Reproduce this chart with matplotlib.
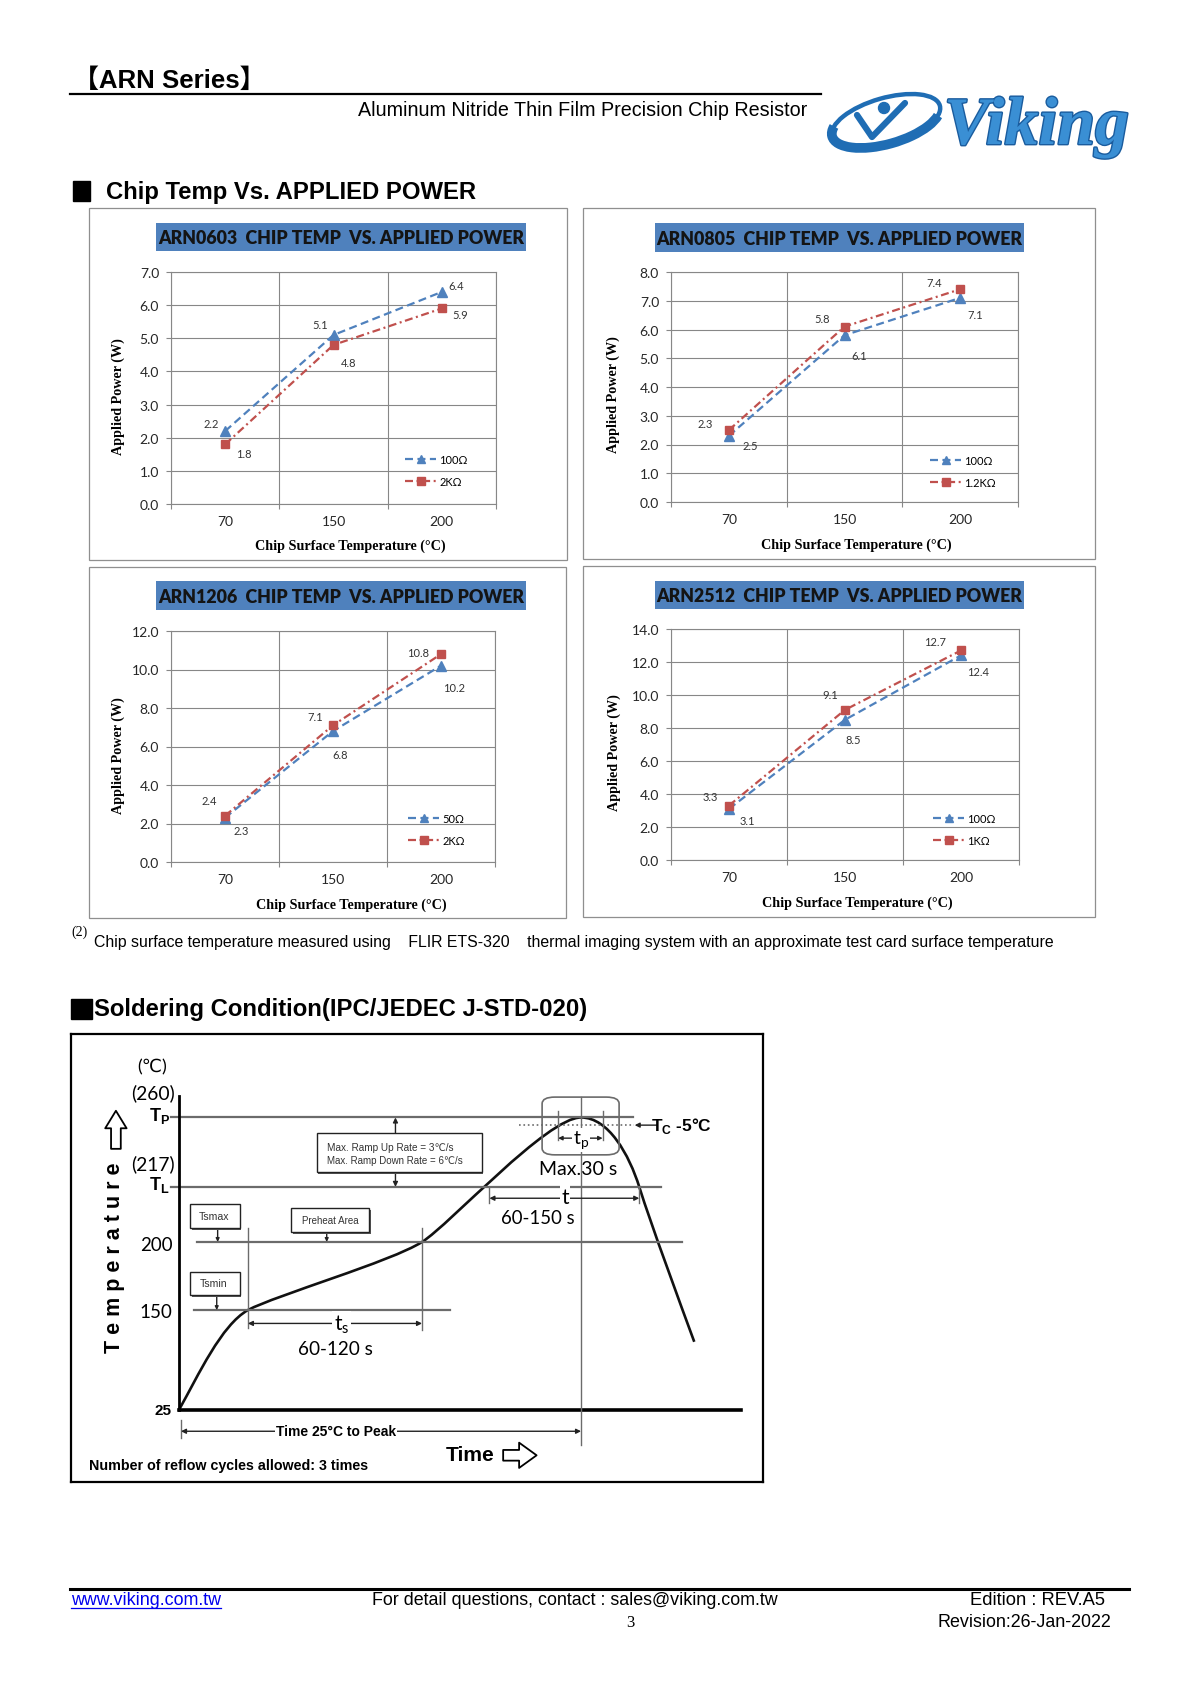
import numpy as np
import matplotlib
matplotlib.use('Agg')
import matplotlib.pyplot as plt
import matplotlib.patches as mpatches
import matplotlib.patheffects as pe
from matplotlib.path import Path

# ---- chart data ----
CATS = ['70', '150', '200']
TITLES = ['ARN0603  CHIP TEMP  VS. APPLIED POWER', 'ARN0805  CHIP TEMP  VS. APPLIED POWER',
          'ARN1206  CHIP TEMP  VS. APPLIED POWER', 'ARN2512  CHIP TEMP  VS. APPLIED POWER']
ARN0603_A = [2.2, 5.1, 6.4]
ARN0603_B = [1.8, 4.8, 5.9]
ARN0805_A = [2.3, 5.8, 7.1]
ARN0805_B = [2.5, 6.1, 7.4]
ARN1206_A = [2.3, 6.8, 10.2]
ARN1206_B = [2.4, 7.1, 10.8]
ARN2512_A = [3.1, 8.5, 12.4]
ARN2512_B = [3.3, 9.1, 12.7]
SERIES_A = [ARN0603_A, ARN0805_A, ARN1206_A, ARN2512_A]
SERIES_B = [ARN0603_B, ARN0805_B, ARN1206_B, ARN2512_B]
NAMES = [['100Ω', '2KΩ'], ['100Ω', '1.2KΩ'], ['50Ω', '2KΩ'], ['100Ω', '1KΩ']]
YMAX = [7, 8, 12, 14]
YSTEP = [1, 1, 2, 2]

# data label offsets (pixels, right / down) per chart, per point
OFF_A = [[(-14, -8), (-13, -10), (14, -6)],
         [(-24, -12), (-22, -17), (15, 17)],
         [(16, 13), (7, 23), (13, 22)],
         [(18, 12), (8, 20), (17, 16)]]
OFF_B = [[(19, 9), (15, 18), (18, 6)],
         [(21, 15), (15, 29), (-26, -7)],
         [(-16, -15), (-18, -9), (-23, -2)],
         [(-19, -9), (-15, -15), (-26, -9)]]

# ---- page layout (pixels) ----
W, H = 1189, 1683
PANEL = [(89, 209, 567, 561), (583, 209, 1095, 560), (89, 568, 566, 919), (583, 567, 1095, 918)]
TITLEBOX = [(156, 224, 526, 252), (655, 224, 1024, 253), (156, 582, 526, 611), (655, 582, 1024, 610)]
PLOT = [(171, 273, 496, 505), (671, 273, 1018, 503), (171, 632, 495, 863), (671, 630, 1019, 861)]
XLAB = [(350, 546), (856, 545), (351, 905), (857, 903)]
YLAB = [(118, 397), (613, 395), (118, 756), (614, 753)]
LEG = [(405, 462), (930, 463), (408, 821), (933, 821)]
SOLDER_BOX = (71, 1035, 763, 1483)

BLUE = '#4F81BD'
RED = '#C0504D'
SANS = ['Liberation Sans', 'DejaVu Sans']
SERIF = ['Liberation Serif', 'DejaVu Serif']
CAL = ['Lato', 'DejaVu Sans']
CJK = ['Liberation Sans', 'Noto Sans CJK SC', 'DejaVu Sans']

fig = plt.figure(figsize=(W / 100, H / 100), dpi=100)
page = fig.add_axes([0, 0, 1, 1])
page.set_xlim(0, W)
page.set_ylim(H, 0)
page.axis('off')
renderer = fig.canvas.get_renderer()


def frac(b):
    x0, y0, x1, y1 = b
    return [x0 / W, 1 - y1 / H, (x1 - x0) / W, (y1 - y0) / H]


def fit(t, width, vertical=False):
    bb = t.get_window_extent(renderer)
    cur = bb.height if vertical else bb.width
    t.set_fontsize(t.get_fontsize() * width / cur)
    return t


# ---- header ----
fit(page.text(73, 81, '【ARN Series】', fontsize=19, fontweight='bold', family=CJK, va='center'), 193)
page.plot([70, 821], [94.5, 94.5], color='black', lw=1.6)
fit(page.text(807, 111, 'Aluminum Nitride Thin Film Precision Chip Resistor', ha='right', va='center',
              family=SANS, fontsize=13), 447)

# logo
EYE = '#1f6db4'
page.add_patch(mpatches.Ellipse((886, 122), 112, 46, angle=-16, fill=False, ec=EYE, lw=3.2))
page.add_patch(mpatches.Arc((886, 122), 112, 46, angle=-16, theta1=10, theta2=190, ec=EYE, lw=7))
page.plot([857, 872, 905], [116, 138, 104], color=EYE, lw=4.5, solid_capstyle='round')
page.add_patch(mpatches.Circle((884, 109), 5.5, color=EYE))
logo = page.text(944, 145, 'Viking', family=SERIF, fontweight='bold', fontstyle='italic',
                 color='#3a8fd4', fontsize=50, va='baseline')
logo.set_path_effects([pe.withStroke(linewidth=2, foreground='#1a5c9e')])
fit(logo, 185)

# section 1
page.add_patch(mpatches.Rectangle((73, 182), 17, 20, color='black'))
fit(page.text(106, 192, 'Chip Temp Vs. APPLIED POWER', fontweight='bold', fontsize=15.5, va='center',
              family=SANS), 369)

# ---- four charts ----
for i in range(4):
    bx0, by0, bx1, by1 = PANEL[i]
    page.add_patch(mpatches.Rectangle((bx0, by0), bx1 - bx0, by1 - by0, fill=False, ec='#8f8f8f', lw=0.9))
    tx0, ty0, tx1, ty1 = TITLEBOX[i]
    page.add_patch(mpatches.Rectangle((tx0, ty0), tx1 - tx0, ty1 - ty0, fc=BLUE, ec='none'))
    fit(page.text((tx0 + tx1) / 2, (ty0 + ty1) / 2 + 1, TITLES[i], ha='center', va='center',
                  fontweight='heavy', family=CAL, color='#141414', fontsize=13), tx1 - tx0 - 6)

    ax = fig.add_axes(frac(PLOT[i]))
    x = np.arange(len(CATS))
    la, = ax.plot(x, SERIES_A[i], color=BLUE, ls=(0, (3.6, 2.0)), lw=1.6, marker='^', ms=6.5,
                  mfc=BLUE, mec=BLUE, zorder=3)
    lb, = ax.plot(x, SERIES_B[i], color=RED, ls=(0, (3.6, 1.6, 0.9, 1.6)), lw=1.6, marker='s', ms=6,
                  mfc=RED, mec=RED, zorder=4)
    ax.set_xlim(-0.5, len(CATS) - 0.5)
    ax.set_ylim(0, YMAX[i])
    yt = np.arange(0, YMAX[i] + 0.01, YSTEP[i])
    ax.set_yticks(yt)
    ax.set_yticklabels([f'{v:.1f}' for v in yt], family=CAL, fontsize=10, color='#262626')
    ax.set_xticks(np.arange(len(CATS) + 1) - 0.5)
    ax.set_xticklabels([])
    ax.set_xticks(x, minor=True)
    ax.set_xticklabels(CATS, minor=True, family=CAL, fontsize=10, color='#262626')
    ax.tick_params(axis='y', direction='out', length=3.6, width=0.8, color='#878787', pad=5)
    ax.tick_params(axis='x', which='major', direction='out', length=3.6, width=0.8, color='#878787')
    ax.tick_params(axis='x', which='minor', length=0, pad=8)
    ax.grid(True, axis='both', which='major', color='#878787', lw=0.8)
    ax.set_axisbelow(True)
    for s in ax.spines.values():
        s.set_color('#878787')
        s.set_lw(0.8)

    for vals, offs in ((SERIES_A[i], OFF_A[i]), (SERIES_B[i], OFF_B[i])):
        for xi, v, (dx, dy) in zip(x, vals, offs):
            ax.annotate(f'{v:.1f}', (xi, v), xytext=(dx * 0.72, -dy * 0.72), textcoords='offset points',
                        ha='center', va='center', fontsize=8, color='#333333', family=CAL)

    lx, ly = LEG[i]
    ax.legend([la, lb], NAMES[i], loc='upper left', bbox_to_anchor=(lx / W, 1 - (ly - 7) / H),
              bbox_transform=fig.transFigure, frameon=False, prop={'family': CAL, 'size': 8},
              handlelength=2.8, handletextpad=0.3, labelspacing=0.95, borderpad=0, borderaxespad=0,
              markerscale=0.9)

    fit(page.text(XLAB[i][0], XLAB[i][1], 'Chip Surface Temperature (°C)', ha='center', va='center',
                  family=SERIF, fontweight='bold', fontsize=10.5), 192)
    fit(page.text(YLAB[i][0], YLAB[i][1], 'Applied Power (W)', ha='center', va='center', rotation=90,
                  family=SERIF, fontweight='bold', fontsize=10.5), 117, vertical=True)

# footnote
page.text(71, 932, '(2)', family=SERIF, fontsize=10, va='center')
fit(page.text(94, 943, 'Chip surface temperature measured using    FLIR ETS-320    thermal imaging system '
              'with an approximate test card surface temperature', family=SANS, fontsize=11, va='center'), 955)

# section 2
page.add_patch(mpatches.Rectangle((71, 1000), 21, 20, color='black'))
fit(page.text(94, 1010, 'Soldering Condition(IPC/JEDEC J-STD-020)', fontweight='bold', fontsize=15.5,
              va='center', family=SANS), 492)

# ---- soldering profile diagram (schematic units) ----
DX = (SOLDER_BOX[2] - SOLDER_BOX[0]) / 1510.0
LEVEL_LABELS = ['(260)', '(217)', '200', '150']
LEVEL_LABEL_Y = [192, 405, 648, 850]
LEVEL_LINES_Y = [268, 476, 641, 845]
LEVEL_LINES_X = [(240, 1248), (240, 1310), (298, 1355), (290, 848)]
AXIS_X, AXIS_Y = 258, 1143
PEAK_X = 1135
# profile as cubic bezier: start, (c1, c2, end) ...
PROFILE = [(258, 1143),
           (300, 1040), (350, 890), (408, 845),
           (470, 800), (720, 700), (788, 641),
           (850, 587), (1060, 268), (1135, 268),
           (1195, 268), (1240, 380), (1262, 476),
           (1290, 598), (1350, 820), (1382, 940)]

sd = fig.add_axes(frac(SOLDER_BOX))
sd.set_xlim(22, 1532)
sd.set_ylim(1360, 18)
sd.set_xticks([])
sd.set_yticks([])
for s in sd.spines.values():
    s.set_lw(1.6)
    s.set_color('black')

GRAY = '#6b6b6b'
for yv, (xa, xb) in zip(LEVEL_LINES_Y, LEVEL_LINES_X):
    sd.plot([xa, xb], [yv, yv], color=GRAY, lw=1.6)
sd.plot([1000, 1250], [291, 291], color=GRAY, lw=1.2, ls=':')
sd.plot([AXIS_X, AXIS_X], [205, AXIS_Y], color='black', lw=2)
sd.plot([AXIS_X, 1485], [AXIS_Y, AXIS_Y], color='black', lw=2.6)
for xv, ya, yb in [(408, 600, 900), (788, 600, 905), (PEAK_X, 207, 1248), (935, 476, 525),
                   (1262, 476, 525), (1085, 250, 335), (1182, 250, 335), (262, 1175, 1228)]:
    sd.plot([xv, xv], [ya, yb], color=GRAY, lw=1.0)

codes = [Path.MOVETO] + [Path.CURVE4] * (len(PROFILE) - 1)
sd.add_patch(mpatches.PathPatch(Path(PROFILE, codes), fill=False, ec='#111111', lw=1.9))
sd.add_patch(mpatches.FancyBboxPatch((1050, 207), 168, 173, boxstyle='round,pad=0,rounding_size=28',
                                     fill=False, ec=GRAY, lw=1.2, mutation_aspect=0.7))


def arrow(p0, p1, style='-|>', lw=1.0, ms=7):
    sd.annotate('', xy=p1, xytext=p0, arrowprops=dict(arrowstyle=style, color='#222222', lw=lw,
                                                      shrinkA=0, shrinkB=0, mutation_scale=ms))


arrow((730, 315), (730, 268))
arrow((730, 430), (730, 476))
arrow((408, 885), (788, 885), '<|-|>')
arrow((935, 510), (1262, 510), '<|-|>')
arrow((1085, 330), (1182, 330), '<|-|>', ms=6)
arrow((1300, 291), (1252, 291))
arrow((262, 1208), (PEAK_X, 1208), '<|-|>')
arrow((342, 598), (342, 641), ms=5)
arrow((580, 610), (580, 641), ms=5)
arrow((340, 800), (340, 845), ms=5)

# boxes with shadow
for (x0, y0, x1, y1) in [(282, 527, 390, 598), (502, 540, 673, 610), (282, 730, 390, 800), (558, 315, 918, 430)]:
    sd.add_patch(mpatches.Rectangle((x0 + 4, y0 + 6), x1 - x0, y1 - y0, fc='#555555', ec='none', zorder=4))
    sd.add_patch(mpatches.Rectangle((x0, y0), x1 - x0, y1 - y0, fc='white', ec='#222222', lw=1.0, zorder=5))


def stext(x, y, s, width=None, size=12, **kw):
    kw.setdefault('family', CAL)
    kw.setdefault('ha', 'center')
    kw.setdefault('va', 'center')
    t = sd.text(x, y, s, fontsize=size, zorder=6, **kw)
    if width:
        fit(t, width * DX)
    return t


stext(200, 115, '(℃)', size=13)
for lab, yv in zip(LEVEL_LABELS, LEVEL_LABEL_Y):
    stext(200 if lab.startswith('(') else 208, yv, lab, 95 if lab.startswith('(') else 71)
stext(222, 1143, '25', 37, family=SANS, fontweight='bold')
stext(238, 262, r'T$_\mathregular{P}$', size=13, ha='right', fontweight='bold', family=SANS)
stext(238, 468, r'T$_\mathregular{L}$', size=13, ha='right', fontweight='bold', family=SANS)
stext(118, 685, 'T e m p e r a t u r e', size=15.5, rotation=90, fontweight='bold', family=SANS)
stext(1288, 291, r'T$_\mathregular{C}$ -5°C', 133, ha='left', fontweight='bold', family=SANS)
stext(1128, 420, 'Max.30 s', 170)
stext(1040, 568, '60-150 s', 160)
stext(600, 960, '60-120 s', 162)
stext(1100, 505, 't', size=15, bbox=dict(fc='white', ec='none', pad=1))
stext(612, 885, r't$_\mathregular{s}$', size=15, bbox=dict(fc='white', ec='none', pad=1))
stext(1135, 335, r't$_\mathregular{p}$', size=14, bbox=dict(fc='white', ec='none', pad=0.5))
stext(600, 1208, 'Time 25°C to Peak', 262, family=SANS, fontweight='bold',
      bbox=dict(fc='white', ec='none', pad=1))
stext(62, 1310, 'Number of reflow cycles allowed: 3 times', 606, ha='left', family=SANS, fontweight='bold')
stext(893, 1278, 'Time', 105, family=SANS, fontweight='bold')
stext(580, 355, 'Max. Ramp Up Rate = 3℃/s', 275, ha='left', family=SANS, color='#333333')
stext(580, 395, 'Max. Ramp Down Rate = 6℃/s', 295, ha='left', family=SANS, color='#333333')
stext(335, 562, 'Tsmax', 66, family=SANS, color='#333333')
stext(588, 575, 'Preheat Area', 125, family=SANS, color='#333333')
stext(333, 765, 'Tsmin', 60, family=SANS, color='#333333')

# hollow arrows
sd.annotate('', xy=(120, 248), xytext=(120, 362),
            arrowprops=dict(arrowstyle='simple,head_length=0.9,head_width=1.1,tail_width=0.5',
                            fc='white', ec='black', lw=1.3, mutation_scale=14, shrinkA=0, shrinkB=0))
sd.annotate('', xy=(1038, 1280), xytext=(965, 1280),
            arrowprops=dict(arrowstyle='simple,head_length=0.9,head_width=1.3,tail_width=0.55',
                            fc='white', ec='black', lw=1.3, mutation_scale=14, shrinkA=0, shrinkB=0))

# ---- footer ----
page.plot([70, 1129], [1590, 1590], color='black', lw=2.2)
fit(page.text(71, 1601, 'www.viking.com.tw', color='#0000ee', family=SANS, fontsize=12, va='center'), 150)
page.plot([71, 221], [1609, 1609], color='#0000ee', lw=0.9)
fit(page.text(575, 1601, 'For detail questions, contact : sales@viking.com.tw', family=SANS, fontsize=12,
              ha='center', va='center'), 406)
page.text(630, 1623, '3', family=SERIF, fontsize=12, ha='center', va='center')
fit(page.text(1105, 1601, 'Edition : REV.A5', family=SANS, fontsize=12, ha='right', va='center'), 135)
fit(page.text(1111, 1623, 'Revision:26-Jan-2022', family=SANS, fontsize=12, ha='right', va='center'), 174)

fig.savefig('out.png', dpi=100)
